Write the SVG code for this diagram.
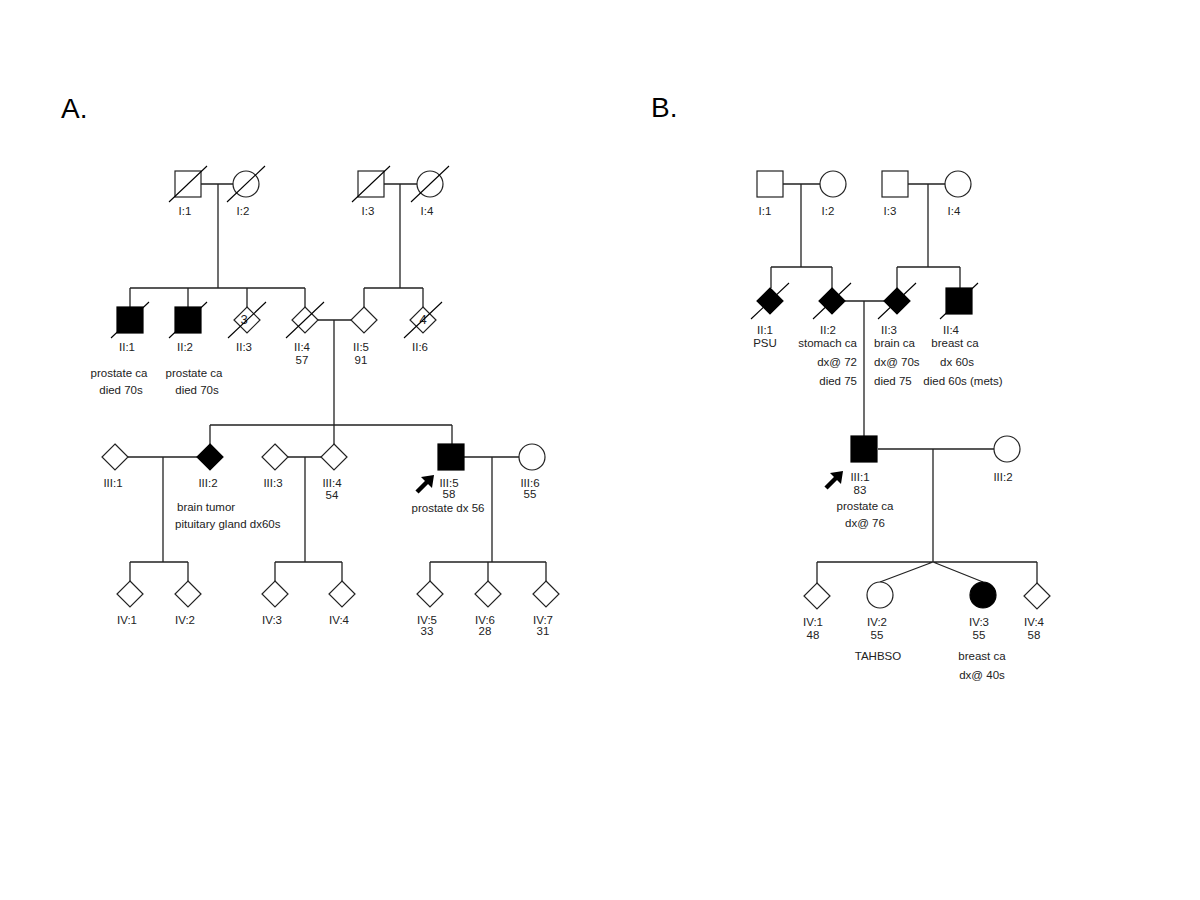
<svg xmlns="http://www.w3.org/2000/svg" width="1200" height="900" viewBox="0 0 1200 900">
<style>
.ln{stroke:#222;stroke-width:1.3;fill:none}
.sl{stroke:#000;stroke-width:1.1;fill:none}
.o{fill:#fff;stroke:#222;stroke-width:1.2}
.f{fill:#000;stroke:#000;stroke-width:1.2}
text{font-family:"Liberation Sans",Arial,sans-serif;font-size:11.5px;fill:#222}
.c{text-anchor:middle}
.r{text-anchor:end}
.big{font-size:28px;fill:#000}
.num{font-size:13px}
</style>
<defs>
<rect id="sq" x="-13" y="-13" width="26" height="26"/>
<polygon id="dm" points="0,-13 13,0 0,13 -13,0"/>
<line id="sla" x1="-19" y1="18" x2="19" y2="-18"/>
<g id="arrow"><line x1="0" y1="0" x2="11" y2="-11" stroke="#000" stroke-width="4.5"/><polygon points="17,-17 4,-15 15,-4" fill="#000"/></g>
</defs>
<rect width="1200" height="900" fill="#fff"/>
<text x="61" y="118" class="big">A.</text>
<text x="651" y="117" class="big">B.</text>

<g id="connectors">
<!-- Panel A -->
<path class="ln" d="M201,184H233M218,184V288M130,288H305M130,288V307M188,288V307M247,288V307M305,288V307"/>
<path class="ln" d="M384,184H417M400,184V288M364,288H423M364,288V307M423,288V307"/>
<path class="ln" d="M318,320H351M334,320V444M210,425H452M210,425V444M452,425V444"/>
<path class="ln" d="M128,457H197M163,457V562M130,562H188M130,562V581M188,562V581"/>
<path class="ln" d="M288,457H321M305,457V562M275,562H342M275,562V581M342,562V581"/>
<path class="ln" d="M464,457H519M492,457V562M430,562H546M430,562V581M488,562V581M546,562V581"/>
<!-- Panel B -->
<path class="ln" d="M783,184H820M801,184V267M771,267H832M771,267V288M832,267V288"/>
<path class="ln" d="M908,184H945M928,184V267M897,267H960M897,267V288M960,267V288"/>
<path class="ln" d="M845,301H884M864,301V436"/>
<path class="ln" d="M878,449H994M933,449V562M817,562H1037M817,562V583M1037,562V583M933,562L880,582M933,562L983,582"/>
</g>

<!-- Panel A generation I -->
<g id="A-I1" transform="translate(188,184)"><use href="#sq" class="o"/><use href="#sla" class="sl"/></g>
<g id="A-I2" transform="translate(246,184)"><circle r="13" class="o"/><use href="#sla" class="sl"/></g>
<g id="A-I3" transform="translate(371,184)"><use href="#sq" class="o"/><use href="#sla" class="sl"/></g>
<g id="A-I4" transform="translate(430,184)"><circle r="13" class="o"/><use href="#sla" class="sl"/></g>
<g id="A-I-labels">
<text x="185" y="215" class="c">I:1</text><text x="243" y="215" class="c">I:2</text>
<text x="368" y="215" class="c">I:3</text><text x="427" y="215" class="c">I:4</text>
</g>
<!-- Panel A generation II -->
<g id="A-II1" transform="translate(130,320)"><use href="#sq" class="f"/><use href="#sla" class="sl"/></g>
<g id="A-II2" transform="translate(188,320)"><use href="#sq" class="f"/><use href="#sla" class="sl"/></g>
<g id="A-II3" transform="translate(247,320)"><use href="#dm" class="o"/><text x="-3" y="4" class="c num">3</text><use href="#sla" class="sl"/></g>
<g id="A-II4" transform="translate(305,320)"><use href="#dm" class="o"/><use href="#sla" class="sl"/></g>
<g id="A-II5" transform="translate(364,320)"><use href="#dm" class="o"/></g>
<g id="A-II6" transform="translate(423,320)"><use href="#dm" class="o"/><text x="0" y="4" class="c num">4</text><use href="#sla" class="sl"/></g>
<g id="A-II-labels">
<text x="127" y="351" class="c">II:1</text><text x="185" y="351" class="c">II:2</text>
<text x="244" y="351" class="c">II:3</text><text x="302" y="351" class="c">II:4</text>
<text x="361" y="351" class="c">II:5</text><text x="420" y="351" class="c">II:6</text>
<text x="302" y="364" class="c">57</text><text x="361" y="364" class="c">91</text>
<text x="119" y="377" class="c">prostate ca</text><text x="121" y="394" class="c">died 70s</text>
<text x="194" y="377" class="c">prostate ca</text><text x="197" y="394" class="c">died 70s</text>
</g>
<!-- Panel A generation III -->
<g id="A-III1" transform="translate(115,457)"><use href="#dm" class="o"/></g>
<g id="A-III2" transform="translate(210,457)"><use href="#dm" class="f"/></g>
<g id="A-III3" transform="translate(275,457)"><use href="#dm" class="o"/></g>
<g id="A-III4" transform="translate(334,457)"><use href="#dm" class="o"/></g>
<g id="A-III5" transform="translate(451,457)"><use href="#sq" class="f"/></g>
<g id="A-III6" transform="translate(532,457)"><circle r="13" class="o"/></g>
<g id="A-proband-arrow" transform="translate(417,492)"><use href="#arrow"/></g>
<g id="A-III-labels">
<text x="113" y="487" class="c">III:1</text><text x="208" y="487" class="c">III:2</text>
<text x="273" y="487" class="c">III:3</text><text x="332" y="487" class="c">III:4</text>
<text x="449" y="487" class="c">III:5</text><text x="530" y="487" class="c">III:6</text>
<text x="332" y="499" class="c">54</text><text x="449" y="498" class="c">58</text><text x="530" y="498" class="c">55</text>
<text x="448" y="512" class="c">prostate dx 56</text>
<text x="177" y="511">brain tumor</text>
<text x="175" y="528">pituitary gland dx60s</text>
</g>
<!-- Panel A generation IV -->
<g id="A-IV1" transform="translate(130,594)"><use href="#dm" class="o"/></g>
<g id="A-IV2" transform="translate(188,594)"><use href="#dm" class="o"/></g>
<g id="A-IV3" transform="translate(275,594)"><use href="#dm" class="o"/></g>
<g id="A-IV4" transform="translate(342,594)"><use href="#dm" class="o"/></g>
<g id="A-IV5" transform="translate(430,594)"><use href="#dm" class="o"/></g>
<g id="A-IV6" transform="translate(488,594)"><use href="#dm" class="o"/></g>
<g id="A-IV7" transform="translate(546,594)"><use href="#dm" class="o"/></g>
<g id="A-IV-labels">
<text x="127" y="624" class="c">IV:1</text><text x="185" y="624" class="c">IV:2</text>
<text x="272" y="624" class="c">IV:3</text><text x="339" y="624" class="c">IV:4</text>
<text x="427" y="624" class="c">IV:5</text><text x="485" y="624" class="c">IV:6</text><text x="543" y="624" class="c">IV:7</text>
<text x="427" y="635" class="c">33</text><text x="485" y="635" class="c">28</text><text x="543" y="635" class="c">31</text>
</g>

<!-- Panel B generation I -->
<g id="B-I1" transform="translate(770,184)"><use href="#sq" class="o"/></g>
<g id="B-I2" transform="translate(833,184)"><circle r="13" class="o"/></g>
<g id="B-I3" transform="translate(895,184)"><use href="#sq" class="o"/></g>
<g id="B-I4" transform="translate(958,184)"><circle r="13" class="o"/></g>
<g id="B-I-labels">
<text x="765" y="215" class="c">I:1</text><text x="828" y="215" class="c">I:2</text>
<text x="890" y="215" class="c">I:3</text><text x="954" y="215" class="c">I:4</text>
</g>
<!-- Panel B generation II -->
<g id="B-II1" transform="translate(770,301)"><use href="#dm" class="f"/><use href="#sla" class="sl"/></g>
<g id="B-II2" transform="translate(832,301)"><use href="#dm" class="f"/><use href="#sla" class="sl"/></g>
<g id="B-II3" transform="translate(897,301)"><use href="#dm" class="f"/><use href="#sla" class="sl"/></g>
<g id="B-II4" transform="translate(959,301)"><use href="#sq" class="f"/><use href="#sla" class="sl"/></g>
<g id="B-II-labels">
<text x="765" y="334" class="c">II:1</text><text x="828" y="334" class="c">II:2</text>
<text x="889" y="334" class="c">II:3</text><text x="951" y="334" class="c">II:4</text>
<text x="765" y="347" class="c">PSU</text>
<text x="857" y="347" class="r">stomach ca</text>
<text x="857" y="366" class="r">dx@ 72</text>
<text x="857" y="385" class="r">died 75</text>
<text x="874" y="347">brain ca</text>
<text x="874" y="366">dx@ 70s</text>
<text x="874" y="385">died 75</text>
<text x="955" y="347" class="c">breast ca</text>
<text x="957" y="366" class="c">dx 60s</text>
<text x="963" y="385" class="c">died 60s (mets)</text>
</g>
<!-- Panel B generation III -->
<g id="B-III1" transform="translate(864,449)"><use href="#sq" class="f"/></g>
<g id="B-III2" transform="translate(1007,449)"><circle r="13" class="o"/></g>
<g id="B-proband-arrow" transform="translate(826,488)"><use href="#arrow"/></g>
<g id="B-III-labels">
<text x="860" y="481" class="c">III:1</text><text x="1003" y="481" class="c">III:2</text>
<text x="860" y="494" class="c">83</text>
<text x="865" y="510" class="c">prostate ca</text>
<text x="865" y="527" class="c">dx@ 76</text>
</g>
<!-- Panel B generation IV -->
<g id="B-IV1" transform="translate(817,596)"><use href="#dm" class="o"/></g>
<g id="B-IV2" transform="translate(880,595)"><circle r="13" class="o"/></g>
<g id="B-IV3" transform="translate(983,595)"><circle r="13" class="f"/></g>
<g id="B-IV4" transform="translate(1037,596)"><use href="#dm" class="o"/></g>
<g id="B-IV-labels">
<text x="813" y="626" class="c">IV:1</text><text x="877" y="626" class="c">IV:2</text>
<text x="979" y="626" class="c">IV:3</text><text x="1034" y="626" class="c">IV:4</text>
<text x="813" y="639" class="c">48</text><text x="877" y="639" class="c">55</text>
<text x="979" y="639" class="c">55</text><text x="1034" y="639" class="c">58</text>
<text x="878" y="660" class="c">TAHBSO</text>
<text x="982" y="660" class="c">breast ca</text>
<text x="982" y="679" class="c">dx@ 40s</text>
</g>
</svg>
